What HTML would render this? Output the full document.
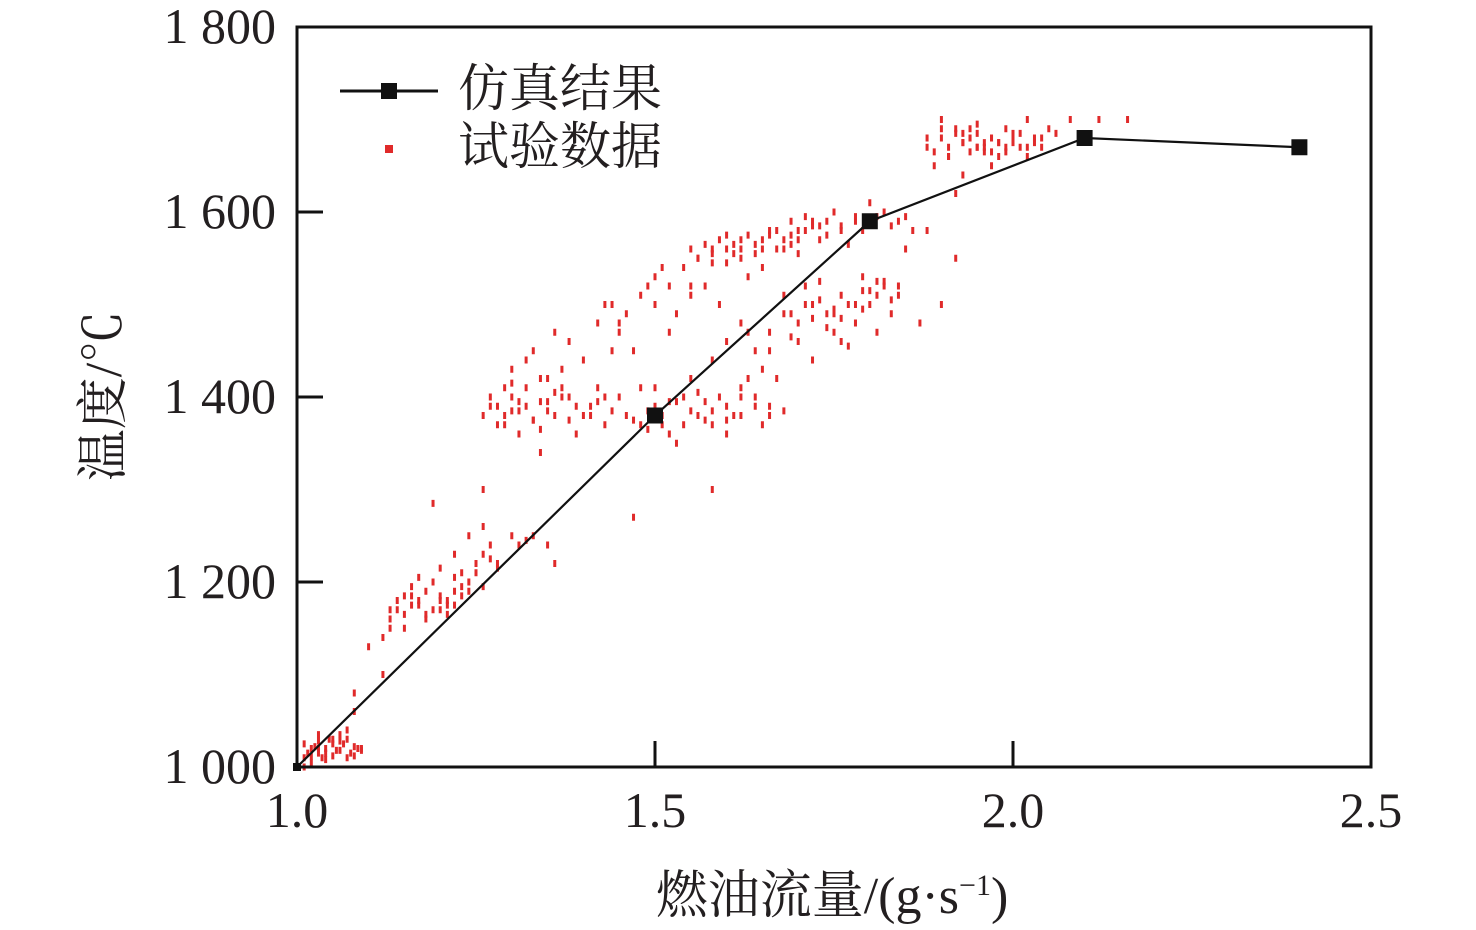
<!DOCTYPE html>
<html><head><meta charset="utf-8"><style>
html,body{margin:0;padding:0;background:#fff;width:1476px;height:930px;overflow:hidden}
svg text{font-family:"Liberation Serif","Noto Serif CJK SC",serif;fill:#231f20}
</style></head><body>
<svg id="chart" width="1476" height="930"></svg>
<script>
const xTicks=[1.0,1.5,2.0,2.5];
const xTickLabels=["1.0","1.5","2.0","2.5"];
const yTicks=[1000,1200,1400,1600,1800];
const yTickLabels=["1 000","1 200","1 400","1 600","1 800"];
const simX=[1.0,1.5,1.8,2.1,2.4];
const simY=[1000,1380,1590,1680,1670];
const expX=[1.01,1.02,1.03,1.04,1.05,1.06,1.07,1.08,1.02,1.04,1.06,1.03,1.05,1.09,1.01,1.07,1.08,1.03,
1.1,1.12,1.13,1.14,1.15,1.16,1.17,1.18,1.19,1.2,1.21,1.22,1.23,1.24,1.25,1.26,1.27,1.3,1.32,1.35,1.36,1.15,1.18,1.21,1.22,1.24,1.19,1.08,1.12,1.28,1.17,1.23,1.13,1.2,1.26,
1.26,1.28,1.29,1.3,1.31,1.32,1.33,1.34,1.35,1.36,1.37,1.38,1.39,1.4,1.41,1.42,1.43,1.44,1.3,1.33,1.36,1.29,1.31,1.34,1.38,1.4,1.27,1.32,1.35,1.45,
1.46,1.48,1.5,1.52,1.54,1.56,1.58,1.6,1.62,1.64,1.66,1.48,1.55,1.6,1.63,1.51,1.57,1.65,1.68,1.53,
1.42,1.44,1.46,1.48,1.5,1.52,1.54,1.56,1.58,1.6,1.62,1.64,1.66,1.68,1.7,1.72,1.74,1.76,1.78,1.8,1.82,1.84,1.86,1.5,1.55,1.58,1.62,1.65,1.6,1.7,1.75,1.45,1.53,1.57,1.63,1.67,1.73,1.8,1.85,1.88,1.92,1.47,1.52,1.59,1.69,1.77,
1.6,1.62,1.64,1.66,1.68,1.7,1.72,1.74,1.76,1.78,1.8,1.82,1.84,1.7,1.75,1.79,1.83,1.65,1.67,1.72,1.77,1.81,1.58,1.62,1.73,1.68,
1.88,1.9,1.91,1.92,1.93,1.94,1.95,1.96,1.97,1.98,1.99,2.0,2.01,2.02,2.03,2.04,1.89,1.95,2.05,2.08,2.12,2.16,1.9,1.97,2.02,1.93,1.92,
1.26,1.47,1.58,1.9,1.87,1.08,
1.015,1.025,1.035,1.045,1.055,1.065,1.075,1.085,1.01,1.03,1.05,1.07,1.02,1.06,1.04,1.09,
1.14,1.16,1.18,1.2,1.22,1.24,1.26,1.28,1.15,1.17,1.19,1.21,1.23,1.25,1.27,1.13,1.16,1.2,1.22,1.31,1.33,
1.27,1.29,1.31,1.33,1.35,1.37,1.39,1.41,1.43,1.28,1.3,1.32,1.34,1.36,1.38,1.3,1.34,1.37,1.42,1.44,
1.47,1.49,1.51,1.53,1.55,1.57,1.59,1.61,1.49,1.52,1.56,1.6,1.64,1.5,1.54,1.58,1.62,1.66,
1.55,1.57,1.59,1.61,1.63,1.65,1.67,1.69,1.71,1.73,1.56,1.58,1.6,1.62,1.64,1.66,1.68,1.7,1.72,1.74,1.76,1.78,1.79,1.81,1.83,1.85,1.43,1.45,1.49,1.51,1.55,1.61,1.65,1.69,1.71,
1.69,1.71,1.73,1.75,1.77,1.79,1.81,1.83,1.71,1.74,1.76,1.78,1.8,1.82,1.63,1.66,1.69,1.72,1.75,1.78,1.81,1.84,1.76,1.79,
1.89,1.91,1.93,1.94,1.95,1.96,1.97,1.98,1.99,2.0,2.01,2.03,1.9,1.92,1.94,1.96,1.98,2.0,2.02,1.91,1.93,1.95,1.97,1.99,2.04,2.06,1.88,1.94];
const expY=[1010,1005,1015,1020,1025,1018,1030,1022,1020,1008,1035,1028,1012,1020,1000,1040,1012,1035,
1130,1140,1170,1180,1165,1185,1175,1190,1200,1170,1180,1190,1210,1200,1220,1230,1240,1250,1245,1240,1220,1150,1160,1165,1230,1250,1285,1060,1100,1220,1205,1185,1160,1215,1260,
1380,1390,1370,1400,1385,1410,1375,1395,1420,1380,1430,1400,1360,1440,1390,1410,1370,1450,1430,1450,1470,1410,1360,1340,1460,1380,1400,1440,1395,1400,
1380,1370,1390,1360,1400,1380,1370,1390,1380,1400,1390,1410,1420,1360,1420,1380,1395,1370,1385,1350,
1480,1500,1490,1510,1530,1520,1540,1550,1545,1560,1570,1565,1575,1570,1580,1585,1590,1580,1595,1590,1600,1590,1580,1500,1510,1560,1550,1540,1575,1555,1600,1470,1490,1520,1530,1560,1570,1610,1560,1580,1550,1450,1470,1500,1590,1565,
1460,1480,1450,1470,1490,1480,1500,1490,1510,1480,1500,1520,1510,1460,1470,1530,1490,1430,1420,1440,1455,1470,1440,1410,1525,1510,
1670,1680,1660,1690,1675,1665,1685,1670,1680,1660,1690,1675,1685,1700,1680,1670,1650,1695,1690,1700,1700,1700,1700,1650,1660,1640,1620,
1300,1270,1300,1500,1480,1080,
1015,1022,1010,1030,1018,1025,1015,1020,1025,1020,1030,1010,1012,1028,1015,1018,
1170,1175,1165,1180,1175,1190,1195,1215,1185,1180,1170,1175,1195,1210,1225,1150,1195,1185,1205,1240,1250,
1390,1380,1395,1375,1385,1400,1390,1380,1400,1370,1415,1390,1420,1405,1375,1385,1365,1410,1395,1385,
1375,1385,1370,1395,1385,1375,1400,1380,1365,1395,1405,1375,1390,1410,1370,1385,1400,1380,
1560,1565,1570,1565,1575,1570,1580,1575,1580,1585,1550,1555,1545,1560,1555,1580,1560,1570,1590,1575,1585,1590,1580,1595,1585,1595,1500,1480,1520,1540,1520,1555,1560,1565,1595,
1490,1500,1505,1495,1500,1515,1510,1505,1520,1475,1485,1480,1515,1525,1470,1450,1465,1485,1490,1500,1525,1520,1460,1495,
1665,1670,1675,1680,1670,1675,1665,1675,1670,1680,1670,1675,1690,1685,1680,1665,1675,1685,1670,1660,1685,1670,1680,1665,1680,1685,1680,1690];
const svg=document.getElementById('chart');
const NS='http://www.w3.org/2000/svg';
const X0=297,X1=1371,Y0=767,Y1=27;
function sx(v){return X0+(v-1.0)/1.5*(X1-X0);}
function sy(v){return Y0-(v-1000)/800*(Y0-Y1);}
function mk(tag,attrs,parent){const e=document.createElementNS(NS,tag);for(const k in attrs)e.setAttribute(k,attrs[k]);(parent||svg).appendChild(e);return e;}
const g=mk('g',{});


for(let i=0;i<expX.length;i++){
  const r=mk('rect',{x:sx(expX[i])-1.5,y:sy(expY[i])-3.5,width:3,height:7,fill:'#e02a2a'},g);
  
  
}
const pts=simX.map((v,i)=>sx(v)+','+sy(simY[i])).join(' ');
const pl=mk('polyline',{points:pts,fill:'none',stroke:'#111',"stroke-width":2.2});


for(let i=0;i<simX.length;i++){
  const s=i===0?8:16;
  const r=mk('rect',{x:sx(simX[i])-s/2,y:sy(simY[i])-s/2,width:s,height:s,fill:'#111'});
  
  
}
const fr=mk('rect',{x:X0,y:Y1,width:X1-X0,height:Y0-Y1,fill:'none',stroke:'#111',"stroke-width":3});


xTicks.forEach((v,i)=>{
  const t=mk('line',{x1:sx(v),x2:sx(v),y1:Y0,y2:Y0-26,stroke:'#111',"stroke-width":3});
  
  
  const l=mk('text',{x:sx(v),y:827,"text-anchor":"middle","font-size":50});
  l.textContent=xTickLabels[i];
  
  
});
yTicks.forEach((v,i)=>{
  const t=mk('line',{x1:X0,x2:X0+26,y1:sy(v),y2:sy(v),stroke:'#111',"stroke-width":3});
  
  
  const l=mk('text',{x:276,y:sy(v)+16,"text-anchor":"end","font-size":50});
  l.textContent=yTickLabels[i];
  
  
});
</script>
<svg width="1476" height="930" style="position:absolute;left:0;top:0">
<text x="832" y="913" text-anchor="middle" font-size="52">燃油流量/(g·s<tspan dy="-18" font-size="30">−1</tspan><tspan dy="18">)</tspan></text>
<text transform="translate(121,396) rotate(-90)" text-anchor="middle" font-size="52">温度/℃</text>
<g>
<line x1="340" x2="438" y1="91" y2="91" stroke="#111" stroke-width="3"/>
<rect x="381" y="83" width="16" height="16" fill="#111"/>
<text x="458" y="106" font-size="51">仿真结果</text>
<rect x="385" y="145" width="8" height="8" fill="#e02a2a"/>
<text x="458" y="164" font-size="51">试验数据</text>
</g>
</svg>
</body></html>
